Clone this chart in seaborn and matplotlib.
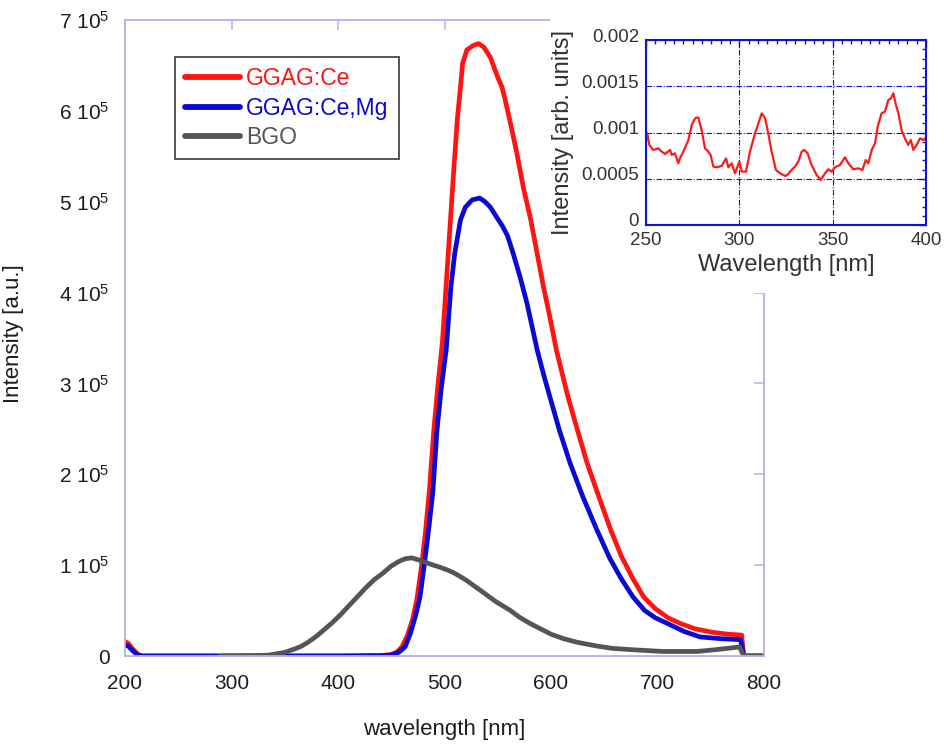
import numpy as np
import pandas as pd
import matplotlib
matplotlib.use("Agg")
import matplotlib.pyplot as plt
import seaborn as sns
from matplotlib.ticker import MultipleLocator, FuncFormatter
from matplotlib.lines import Line2D
from matplotlib.transforms import ScaledTranslation

# ---------------- data ----------------
series_labels = ["GGAG:Ce", "GGAG:Ce,Mg", "BGO"]
series_colors = ["#ff1414", "#0a0ad2", "#555555"]

ce_wl = [200, 203, 207, 212, 216, 250, 300, 350, 400, 440, 449, 455, 460, 465, 470, 474,
         478, 482, 486, 490, 494, 498, 502.5, 505.6, 508.7, 512, 515, 517, 521, 527, 532,
         537, 543, 550, 554, 557, 562, 568, 574, 581, 587, 593, 599.5, 605, 616, 625, 634,
         645, 656, 666, 677, 687, 698, 710, 721, 735, 752, 766, 779, 781, 790, 800]
ce_int = [0.16, 0.14, 0.08, 0.02, 0.0, 0.0, 0.0, 0.0, 0.0, 0.005, 0.015, 0.04, 0.1, 0.22,
          0.4, 0.62, 0.95, 1.35, 1.85, 2.49, 3.0, 3.45, 4.25, 4.8, 5.35, 5.9, 6.26, 6.52,
          6.67, 6.72, 6.74, 6.7, 6.59, 6.37, 6.26, 6.12, 5.86, 5.53, 5.16, 4.8, 4.43, 4.06,
          3.7, 3.37, 2.85, 2.48, 2.12, 1.75, 1.39, 1.1, 0.85, 0.65, 0.52, 0.42, 0.36, 0.30,
          0.26, 0.24, 0.23, 0.0, 0.0, 0.0]

cemg_wl = [200, 203, 207, 212, 216, 250, 300, 350, 400, 440, 450, 457, 463, 468, 473, 477,
           481, 485, 489, 493, 497, 501.6, 506, 509.6, 515, 519.6, 526, 533, 538, 543, 549,
           554, 559, 564, 571, 577.5, 587, 593, 599, 608, 618, 630, 643, 655, 666, 677, 688,
           698, 709, 725, 740, 760, 778, 781, 790, 800]
cemg_int = [0.12, 0.11, 0.06, 0.01, 0.0, 0.0, 0.0, 0.0, 0.0, 0.003, 0.01, 0.04, 0.1, 0.25,
            0.45, 0.65, 1.0, 1.38, 1.8, 2.49, 2.95, 3.37, 4.06, 4.43, 4.8, 4.94, 5.02, 5.04,
            5.0, 4.94, 4.83, 4.74, 4.63, 4.45, 4.17, 3.88, 3.37, 3.1, 2.85, 2.48, 2.12, 1.75,
            1.39, 1.08, 0.85, 0.65, 0.5, 0.42, 0.36, 0.27, 0.21, 0.19, 0.18, 0.0, 0.0, 0.0]

bgo_wl = [290, 320, 335, 350, 360, 366, 373, 380, 387, 394, 402, 410, 418, 426, 434, 442,
          450, 457, 463, 469, 475, 480, 487, 495, 502, 508, 514, 521, 528, 534, 541, 548,
          555, 562, 570, 580, 590, 600, 612, 625, 643, 657, 675, 690, 705, 720, 737, 755,
          770, 777, 781, 790, 800]
bgo_int = [0.0, 0.003, 0.01, 0.04, 0.08, 0.11, 0.16, 0.22, 0.29, 0.36, 0.45, 0.55, 0.65,
           0.75, 0.84, 0.91, 0.99, 1.04, 1.07, 1.08, 1.06, 1.04, 1.01, 0.98, 0.95, 0.92,
           0.88, 0.83, 0.77, 0.72, 0.66, 0.6, 0.55, 0.5, 0.43, 0.36, 0.3, 0.24, 0.19,
           0.15, 0.11, 0.085, 0.07, 0.06, 0.05, 0.05, 0.05, 0.07, 0.09, 0.1, 0.0, 0.0, 0.0]

# inset (arb. units)
ins_wl = [249.5, 250.7, 251.8, 253.9, 256.6, 258.4, 260.2, 262.9, 263.8, 265.5, 267.3,
          268.2, 270.0, 272.7, 274.5, 276.3, 278.0, 279.8, 281.6, 283.4, 284.6, 286.1,
          287.9, 290.5, 292.9, 294.1, 295.9, 297.7, 300.0, 301.3, 303.6, 305.7, 308.4,
          310.2, 312.0, 313.8, 315.5, 317.3, 319.6, 321.8, 324.5, 326.3, 327.1, 329.8,
          331.6, 333.4, 334.8, 336.6, 338.7, 341.4, 343.6, 345.9, 347.7, 349.5, 351.2,
          353.9, 356.6, 358.4, 361.1, 363.7, 365.9, 367.7, 369.1, 370.9, 372.7, 374.1,
          376.2, 378.0, 379.8, 381.2, 382.5, 383.7, 385.2, 386.9, 388.7, 390.5, 391.9,
          393.2, 395.0, 396.8, 398.6, 399.5]
ins_int = [0.847, 0.991, 0.865, 0.811, 0.829, 0.793, 0.768, 0.811, 0.757, 0.775, 0.667,
           0.721, 0.793, 0.919, 1.081, 1.153, 1.164, 1.027, 0.829, 0.793, 0.757, 0.631,
           0.624, 0.638, 0.721, 0.624, 0.667, 0.559, 0.685, 0.577, 0.577, 0.793, 0.991,
           1.099, 1.207, 1.153, 0.991, 0.793, 0.595, 0.559, 0.530, 0.551, 0.577, 0.631,
           0.685, 0.793, 0.811, 0.775, 0.649, 0.541, 0.486, 0.559, 0.602, 0.577, 0.624,
           0.649, 0.732, 0.667, 0.602, 0.613, 0.595, 0.703, 0.667, 0.811, 0.883, 1.063,
           1.207, 1.225, 1.351, 1.369, 1.424, 1.315, 1.207, 1.027, 0.937, 0.865, 0.919,
           0.811, 0.865, 0.937, 0.919, 0.937]

x_ticks = [200, 300, 400, 500, 600, 700, 800]
y_ticks = [0, 1e5, 2e5, 3e5, 4e5, 5e5, 6e5, 7e5]

# ---------------- style ----------------
sns.set_theme(style="white")
plt.rcParams['font.family'] = ['Liberation Sans', 'DejaVu Sans']
plt.rcParams['mathtext.fontset'] = 'custom'
plt.rcParams['mathtext.rm'] = 'Liberation Sans'
plt.rcParams['mathtext.it'] = 'Liberation Sans:italic'
plt.rcParams['mathtext.bf'] = 'Liberation Sans:bold'

W, H = 944, 744
fig = plt.figure(figsize=(W / 100, H / 100), dpi=100)
fig.patch.set_facecolor("white")

# main axes (pixel box: x 125-764, y 20-656)
ax = fig.add_axes([125 / W, 1 - 656 / H, 639 / W, 636 / H])
ax.set_zorder(1)

df_ce = pd.DataFrame({"wl": ce_wl, "I": np.array(ce_int) * 1e5})
df_mg = pd.DataFrame({"wl": cemg_wl, "I": np.array(cemg_int) * 1e5})
df_bgo = pd.DataFrame({"wl": bgo_wl, "I": np.array(bgo_int) * 1e5})

for df, col in zip([df_ce, df_mg, df_bgo], series_colors):
    sns.lineplot(data=df, x="wl", y="I", ax=ax, color=col, linewidth=3.4,
                 legend=False, sort=False, solid_joinstyle="round")

ax.set_xlim(200, 800)
ax.set_ylim(0, 7e5)
ax.set_xticks(x_ticks)
ax.set_yticks(y_ticks)
ax.xaxis.set_major_formatter(FuncFormatter(lambda v, p: f"{int(v)}"))
ax.yaxis.set_major_formatter(FuncFormatter(
    lambda v, p: "0" if v == 0 else f"{int(round(v / 1e5))} 10$^{{5}}$"))

spine_col = "#b2b2ee"
for s in ax.spines.values():
    s.set_color(spine_col)
    s.set_linewidth(1.3)
    s.set_visible(True)
ax.tick_params(axis="both", which="major", direction="in", length=7, width=1.1,
               color=spine_col, top=True, right=True, labelsize=15,
               labelcolor="#1e1e1e")
ax.tick_params(axis="x", pad=13)
ax.tick_params(axis="y", pad=11)
ax.grid(False)

ax.set_xlabel("wavelength [nm]", fontsize=16, color="#1e1e1e")
ax.xaxis.set_label_coords(0.5, (656 - 719) / 636)
ax.set_ylabel("Intensity [a.u.]", fontsize=16, color="#1e1e1e")
ax.yaxis.set_label_coords((24 - 125) / 639, (656 - 334) / 636)

handles = [Line2D([], [], color=c, linewidth=4.2) for c in series_colors]
leg = ax.legend(handles, series_labels, loc="upper left",
                bbox_to_anchor=((175 - 125) / 639, (656 - 57) / 636),
                borderaxespad=0, frameon=True, fancybox=False, fontsize=16.5,
                handlelength=2.4, handletextpad=0.25, labelspacing=0.28,
                borderpad=0.45)
leg.get_frame().set_edgecolor("#2a2a2a")
leg.get_frame().set_linewidth(1.4)
for t, c in zip(leg.get_texts(), series_colors):
    t.set_color(c)

# white patch behind the inset (hides main top/right spines there)
cover = fig.add_axes([550 / W, 1 - 293 / H, 394 / W, 293 / H])
cover.set_zorder(5)
cover.set_facecolor("white")
cover.set_xticks([])
cover.set_yticks([])
for s in cover.spines.values():
    s.set_visible(False)

# inset axes (pixel box: x 646-926, y 40-225)
ins = fig.add_axes([646 / W, 1 - 225 / H, 280 / W, 185 / H])
ins.set_zorder(6)
df_ins = pd.DataFrame({"wl": ins_wl, "I": np.array(ins_int) * 1e-3})
sns.lineplot(data=df_ins, x="wl", y="I", ax=ins, color="#ff1a1a", linewidth=1.6,
             legend=False, sort=False)
ins.set_xlim(250, 400)
ins.set_ylim(0, 0.002)
ins.xaxis.set_major_locator(MultipleLocator(50))
ins.xaxis.set_minor_locator(MultipleLocator(5))
ins.yaxis.set_major_locator(MultipleLocator(0.0005))
ins.yaxis.set_minor_locator(MultipleLocator(0.0001))
ins.xaxis.set_major_formatter(FuncFormatter(lambda v, p: f"{int(v)}"))
ins.yaxis.set_major_formatter(FuncFormatter(lambda v, p: "0" if abs(v) < 1e-12 else f"{v:g}"))
blue = "#1010d8"
for s in ins.spines.values():
    s.set_color(blue)
    s.set_linewidth(1.5)
    s.set_visible(True)
ins.grid(True, which="major", color=blue, linestyle=(0, (5, 1.5, 1, 1.5)), linewidth=0.8)
ins.grid(False, which="minor")
ins.tick_params(which="both", direction="in", top=True, right=True, color=blue,
                labelsize=13.5, labelcolor="#333333", width=1.0)
ins.tick_params(which="major", length=5)
ins.tick_params(axis="x", which="major", pad=5)
ins.tick_params(axis="y", which="major", pad=5)
ins.tick_params(which="minor", length=3)
# y tick labels sit slightly above their ticks in the reference
shift = ScaledTranslation(0, 5 / 100, fig.dpi_scale_trans)
for lab in ins.get_yticklabels():
    lab.set_transform(lab.get_transform() + shift)
ins.set_xlabel("Wavelength [nm]", fontsize=17, color="#333333", labelpad=4)
ins.set_ylabel("Intensity [arb. units]", fontsize=17, color="#333333", labelpad=5)

fig.savefig("out.png", dpi=100, facecolor="white")
